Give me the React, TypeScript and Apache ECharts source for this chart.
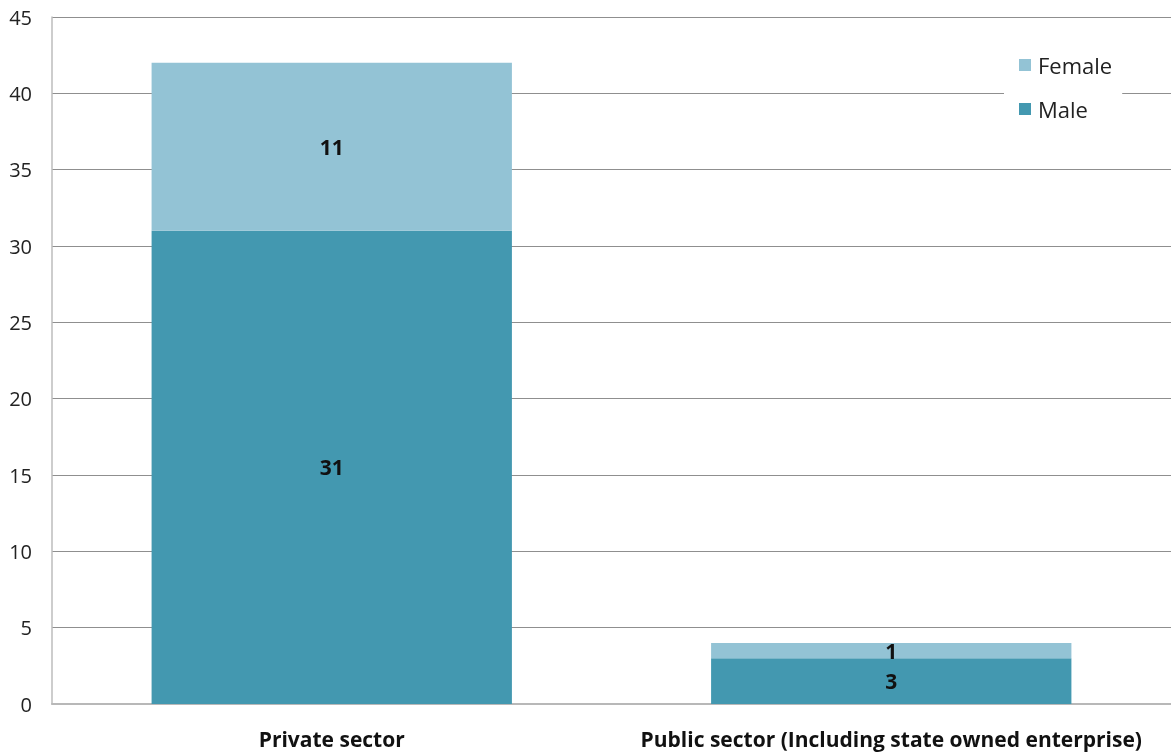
import React, { useEffect, useRef } from "react";
import * as echarts from "echarts";

const categories = ["Private sector", "Public sector (Including state owned enterprise)"];
const maleValues = [31, 3];
const femaleValues = [11, 1];
const seriesNames = ["Male", "Female"];
const yTicks = { min: 0, max: 45, interval: 5 };

export default function App() {
  const ref = useRef<HTMLDivElement>(null);
  useEffect(() => {
    const chart = echarts.init(ref.current!, undefined, { renderer: "svg" });
    const font = "'Open Sans', 'Noto Sans', sans-serif";
    const labelStyle = { show: true, position: "inside", fontSize: 21, fontWeight: "bold", color: "#111", fontFamily: font };
    chart.setOption({
      animation: false,
      textStyle: { fontFamily: font },
      grid: { left: 52, top: 17, right: -8, bottom: 50, containLabel: false },
      legend: {
        data: [seriesNames[1], seriesNames[0]],
        orient: "vertical",
        left: 1004,
        top: 48,
        itemWidth: 12,
        itemHeight: 12,
        itemGap: 22,
        padding: [6, 10, 8, 15],
        backgroundColor: "#ffffff",
        icon: "rect",
        textStyle: { fontSize: 22, color: "#222", fontFamily: font, padding: [0, 0, 0, 2] },
      },
      xAxis: {
        type: "category",
        data: categories,
        axisLine: { lineStyle: { color: "#b8b8b8", width: 2 } },
        axisTick: { show: false },
        axisLabel: { interval: 0, fontSize: 21, fontWeight: "bold", color: "#111", margin: 24, fontFamily: font },
      },
      yAxis: {
        type: "value",
        min: yTicks.min,
        max: yTicks.max,
        interval: yTicks.interval,
        axisLine: { show: true, lineStyle: { color: "#bdbdbd", width: 1.5 } },
        axisTick: { show: false },
        splitLine: { lineStyle: { color: "#8f8f8f", width: 1 } },
        axisLabel: { fontSize: 20, color: "#222", margin: 20, fontFamily: font },
      },
      series: [
        {
          name: seriesNames[0],
          type: "bar",
          stack: "total",
          data: maleValues,
          barWidth: "64.4%",
          itemStyle: { color: "#4398b0" },
          label: labelStyle,
        },
        {
          name: seriesNames[1],
          type: "bar",
          stack: "total",
          data: femaleValues,
          barWidth: "64.4%",
          itemStyle: { color: "#93c3d5" },
          label: labelStyle,
        },
      ],
    });
    return () => chart.dispose();
  }, []);
  return <div ref={ref} style={{ position: "fixed", left: 0, top: 0, width: 1171, height: 754 }} />;
}
